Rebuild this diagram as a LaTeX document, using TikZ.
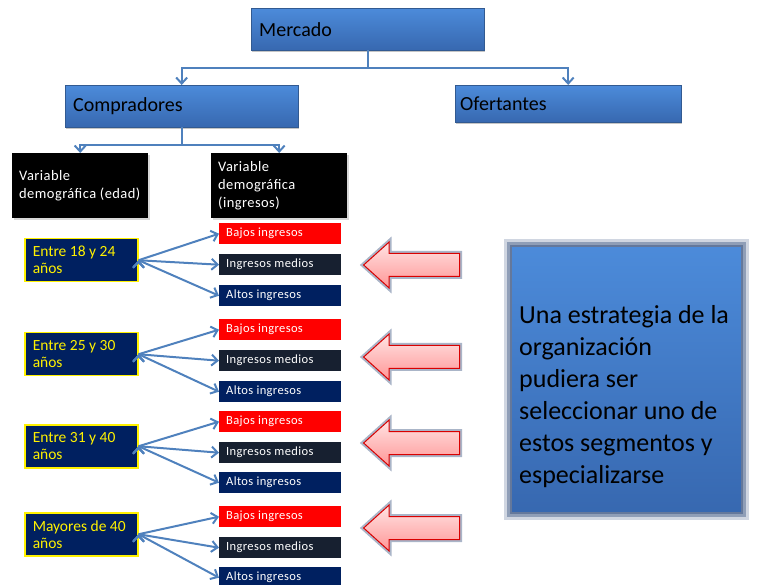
\documentclass[tikz,border=0pt]{standalone}
\usepackage{fontspec}
\setmainfont{Carlito}
\usetikzlibrary{arrows.meta,positioning,shapes.arrows,shadows}

\definecolor{boxtop}{RGB}{76,139,218}
\definecolor{boxbot}{RGB}{55,104,176}
\definecolor{boxline}{RGB}{50,90,145}
\definecolor{linkblue}{RGB}{79,129,189}
\definecolor{navy}{RGB}{0,32,96}
\definecolor{midnight}{RGB}{23,32,48}
\definecolor{pinktop}{RGB}{255,228,228}
\definecolor{pinkbot}{RGB}{255,150,150}
\definecolor{glow}{RGB}{100,120,155}

\begin{document}
\begin{tikzpicture}[
  x=1pt, y=-1pt,
  bluebox/.style={draw=boxline, top color=boxtop, bottom color=boxbot, anchor=north west,
    align=flush left, inner xsep=8pt, font=\fontsize{20}{24}\selectfont,
    drop shadow={shadow xshift=1pt, shadow yshift=-2pt, fill=black!45}},
  varbox/.style={fill=black, text=white, anchor=north west, align=flush left, text width=122pt,
    minimum height=65pt, inner xsep=7pt, font=\fontsize{14.5}{18}\selectfont\addfontfeatures{LetterSpace=3},
    drop shadow={shadow xshift=2pt, shadow yshift=-2pt, fill=black!30}},
  agebox/.style={draw=yellow, line width=1.5pt, fill=navy, text=yellow, anchor=north west,
    align=flush left, text width=97pt, minimum height=43pt, inner xsep=8pt,
    font=\fontsize{15.5}{17}\selectfont},
  incbox/.style={anchor=north west, text=white, align=flush left, text width=108pt, minimum height=21pt,
    inner xsep=7pt, inner ysep=0pt, font=\fontsize{12.5}{14}\selectfont\addfontfeatures{LetterSpace=3}},
  bajo/.style={incbox, fill=red},
  medio/.style={incbox, fill=midnight},
  alto/.style={incbox, fill=navy},
  link/.style={draw=linkblue, line width=2pt},
  leftarrow/.style={shape=single arrow, shape border rotate=180, draw=red!85!black, line width=1pt,
    top color=pinktop, bottom color=pinkbot, minimum height=96pt, inner sep=11pt,
    single arrow head extend=11.5pt, single arrow tip angle=84,
    preaction={draw=glow, line width=5pt, draw opacity=0.55}},
  bigbox/.style={draw=glow, line width=2pt, top color=boxtop, bottom color=boxbot, anchor=north west,
    minimum width=231pt, minimum height=267pt,
    preaction={draw=glow, line width=14pt, draw opacity=0.3},
    preaction={draw=glow, line width=8pt, draw opacity=0.6}},
  bigtext/.style={anchor=north west, align=flush left, text width=222pt, inner sep=0pt,
    font=\fontsize{26}{32}\selectfont}
]
  \useasboundingbox (0,0) rectangle (758,585);

  % top levels
  \node[bluebox, text width=217pt, minimum height=42pt] (merc) at (251,8) {Mercado};
  \node[bluebox, text width=217pt, minimum height=42pt] (comp) at (65,85) {Compradores};
  \node[bluebox, text width=216pt, minimum height=37pt, inner xsep=5pt] (ofer) at (455,85) {Ofertantes};

  % variables
  \node[varbox] (vedad) at (12,153) {Variable\\demográfica (edad)};
  \node[varbox] (vingr) at (211,153) {Variable\\demográfica\\(ingresos)};

  % age groups
  \node[agebox] (a1) at (24,238) {Entre 18 y 24\\años};
  \node[agebox] (a2) at (24,332) {Entre 25 y 30\\años};
  \node[agebox] (a3) at (24,424) {Entre 31 y 40\\años};
  \node[agebox] (a4) at (24,512) {Mayores de 40\\años};

  % income segments
  \node[bajo]  (b1) at (219,223) {Bajos ingresos};
  \node[medio] (m1) at (219,254) {Ingresos medios};
  \node[alto]  (t1) at (219,285) {Altos ingresos};
  \node[bajo]  (b2) at (219,319) {Bajos ingresos};
  \node[medio] (m2) at (219,350) {Ingresos medios};
  \node[alto]  (t2) at (219,381) {Altos ingresos};
  \node[bajo]  (b3) at (219,411) {Bajos ingresos};
  \node[medio] (m3) at (219,442) {Ingresos medios};
  \node[alto]  (t3) at (219,472) {Altos ingresos};
  \node[bajo]  (b4) at (219,506) {Bajos ingresos};
  \node[medio] (m4) at (219,537) {Ingresos medios};
  \node[alto]  (t4) at (219,567) {Altos ingresos};

  % strategy
  \node[leftarrow] (p1) at (418,265) {};
  \node[leftarrow] (p2) at (418,357) {};
  \node[leftarrow] (p3) at (418,443) {};
  \node[leftarrow] (p4) at (418,528) {};
  \node[bigbox] (strat) at (510,245) {};
  \node[bigtext] (stext) at (519,305) {Una estrategia de la\\organización\\pudiera ser\\seleccionar uno de\\estos segmentos y\\especializarse};

  % tree edges
  \coordinate[below=18pt of merc.south] (jm);
  \coordinate[below=18pt of comp.south] (jc);
  \draw[link,-{Straight Barb[length=6pt,width=11pt]}] (merc.south) -- (jm) -| (comp.north);
  \draw[link,-{Straight Barb[length=6pt,width=11pt]}] (jm) -| (ofer.north);
  \draw[link,-{Straight Barb[length=6pt,width=11pt]}] (comp.south) -- (jc) -| (vedad.north);
  \draw[link,-{Straight Barb[length=6pt,width=11pt]}] (jc) -| (vingr.north);

  % segment edges
  \draw[link,-{Straight Barb[length=6pt,width=11pt]}] (a1.east) edge (b1.west);
  \draw[link,-{Straight Barb[length=6pt,width=11pt]}] (a1.east) edge (m1.west);
  \draw[link,-{Straight Barb[length=6pt,width=11pt]}] (a1.east) edge (t1.west);
  \draw[link,-{Straight Barb[length=6pt,width=11pt]}] (a2.east) edge (b2.west);
  \draw[link,-{Straight Barb[length=6pt,width=11pt]}] (a2.east) edge (m2.west);
  \draw[link,-{Straight Barb[length=6pt,width=11pt]}] (a2.east) edge (t2.west);
  \draw[link,-{Straight Barb[length=6pt,width=11pt]}] (a3.east) edge (b3.west);
  \draw[link,-{Straight Barb[length=6pt,width=11pt]}] (a3.east) edge (m3.west);
  \draw[link,-{Straight Barb[length=6pt,width=11pt]}] (a3.east) edge (t3.west);
  \draw[link,-{Straight Barb[length=6pt,width=11pt]}] (a4.east) edge (b4.west);
  \draw[link,-{Straight Barb[length=6pt,width=11pt]}] (a4.east) edge (m4.west);
  \draw[link,-{Straight Barb[length=6pt,width=11pt]}] (a4.east) edge (t4.west);

\end{tikzpicture}
\end{document}
